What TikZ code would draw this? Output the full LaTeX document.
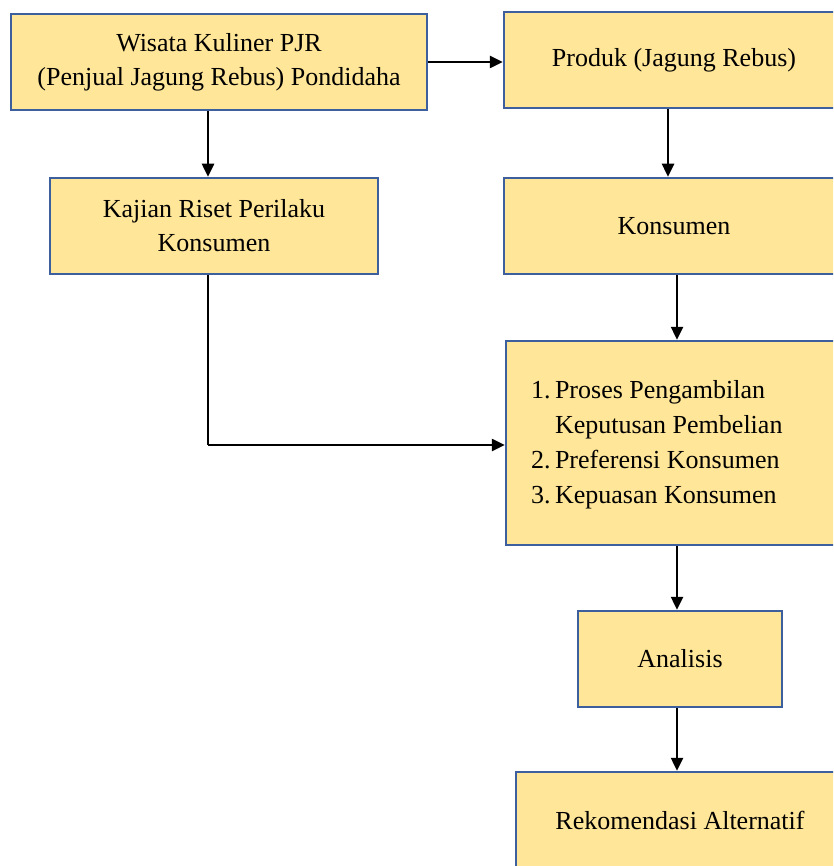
\documentclass[tikz,border=0pt]{standalone}
\usepackage{fontspec}
\setmainfont{Liberation Serif}
\usetikzlibrary{arrows.meta}
\definecolor{boxfill}{HTML}{FFE699}
\definecolor{boxline}{HTML}{3D5F9E}
\tikzset{
  blk/.style={draw=boxline, fill=boxfill, line width=2.5pt, rectangle, align=center,
    font=\fontsize{26}{34}\selectfont, inner sep=0pt},
  arr/.style={line width=2.5pt, -{Triangle[length=13pt,width=12pt]}}
}
\begin{document}
\begin{tikzpicture}[x=1pt,y=-1pt]
\useasboundingbox (0,0) rectangle (833,866);
\begin{scope}
\clip (0,0) rectangle (833,866);
\node[blk, minimum width=416pt, minimum height=96pt] (wis) at (219,62)
  {Wisata Kuliner PJR\\(Penjual Jagung Rebus) Pondidaha};
\node[blk, minimum width=340pt, minimum height=96pt] (prod) at (674,60)
  {Produk (Jagung Rebus)};
\node[blk, minimum width=328pt, minimum height=96pt] (kaj) at (214,226)
  {Kajian Riset Perilaku\\Konsumen};
\node[blk, minimum width=340pt, minimum height=96pt] (kon) at (674,226)
  {Konsumen};
\node[blk, minimum width=344pt, minimum height=204pt] (list) at (678,443) {};
\node[font=\fontsize{26}{35}\selectfont, align=left, anchor=west, inner sep=0pt] (listtxt) at (531,445)
  {1.\,Proses Pengambilan\\\phantom{1.\,}Keputusan Pembelian\\2.\,Preferensi Konsumen\\3.\,Kepuasan Konsumen};
\node[blk, minimum width=204pt, minimum height=96pt] (ana) at (680,659) {Analisis};
\node[blk, minimum width=328pt, minimum height=96pt] (rek) at (680,820) {Rekomendasi Alternatif};
\end{scope}
\coordinate (elbow) at (208,445);
\draw[arr] (wis.east) -- (wis.east -| prod.west);
\draw[arr] (wis.south -| 208,0) -- (kaj.north -| 208,0);
\draw[arr] (prod.south -| 668,0) -- (kon.north -| 668,0);
\draw[arr] (kon.south -| 677,0) -- (list.north -| 677,0);
\draw[line width=2.5pt] (kaj.south -| elbow) -- (elbow);
\draw[arr] (elbow) -- (elbow -| list.west);
\draw[arr] (list.south -| 677,0) -- (ana.north -| 677,0);
\draw[arr] (ana.south -| 677,0) -- (rek.north -| 677,0);
\end{tikzpicture}
\end{document}
